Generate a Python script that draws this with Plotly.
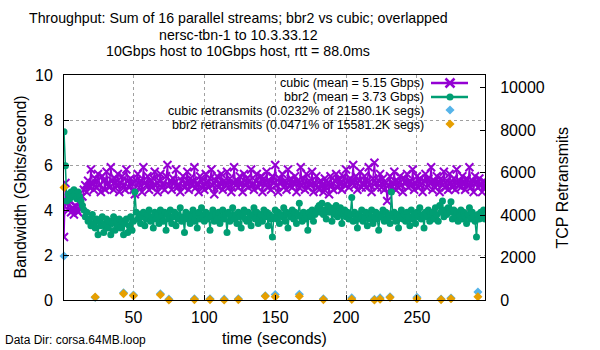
import plotly.graph_objects as go

# ---------------- data ----------------
cubic_bw = [
    2.8, 5.2, 4.3, 4.0, 4.4, 3.9, 4.1, 3.8, 4.2, 4.0,
    3.9, 4.3, 4.1, 4.6, 4.9, 5.1, 4.8, 5.3, 5.0, 5.8,
    5.2, 4.9,
    5.4, 5.0, 5.6, 5.1, 4.8, 5.5, 5.3, 4.9, 5.7, 5.2,
    5.0, 5.9, 5.3, 4.9, 5.4, 5.1, 5.6, 4.8, 5.2, 5.5,
    5.1, 4.9, 5.8, 5.3, 5.0, 5.4, 5.2, 4.9, 4.7, 5.3,
    5.6, 5.0, 5.3, 4.8, 5.9, 5.2, 5.1, 5.5, 4.9, 5.3,
    5.0, 5.4, 5.7, 5.1, 4.8, 5.3, 5.6, 5.0, 5.2, 4.9,
    5.5, 6.0, 5.1, 5.3, 4.9, 5.4, 5.2, 5.8, 5.0, 5.1,
    4.8, 5.3, 5.5, 5.0, 5.2, 5.7, 4.9, 5.4, 5.1, 5.3,
    5.9, 5.0, 5.2, 4.8, 5.5, 5.3, 5.1, 4.9, 5.6, 5.2,
    5.0, 5.4, 5.8, 5.1, 4.7, 5.3, 5.5, 5.0, 5.2, 5.6,
    4.9, 5.3, 5.1, 5.7, 5.0, 5.4, 4.8, 5.2, 5.9, 5.1,
    5.3, 5.0, 5.5, 5.2, 4.8, 5.6, 5.1, 5.4, 5.0, 5.3,
    5.8, 5.1, 4.9, 5.3, 5.6, 5.0, 5.2, 5.5, 4.8, 5.4,
    5.1, 5.7, 5.0, 5.3, 4.9, 5.5, 5.2, 6.0, 5.1, 4.8,
    5.4, 5.2, 5.6, 5.0, 5.3, 4.9, 5.8, 5.1, 5.4, 5.0,
    5.2, 5.5, 4.8, 5.3, 5.0, 5.9, 5.1, 5.4, 4.9, 5.6,
    5.0, 5.3, 5.1, 5.7, 4.8, 5.2, 5.5, 5.0, 4.9, 5.3,
    5.1, 4.8, 5.4, 5.0, 5.2, 4.7, 5.5, 5.1, 4.9, 5.3,
    5.6, 5.0, 5.4, 5.2, 4.9, 5.5, 5.1, 5.8, 5.3, 5.0,
    5.4, 5.2, 6.0, 5.1, 5.5, 4.9, 5.3, 5.7, 5.0, 5.2,
    5.5, 5.0, 5.3, 5.9, 5.1, 4.8, 5.4, 6.1, 5.2, 5.0,
    5.3, 5.6, 5.0, 5.4, 4.9, 5.2, 4.4, 5.1, 5.5, 5.0,
    5.2, 5.7, 4.9, 5.3, 5.0, 5.5, 5.1, 4.8, 5.4, 5.2,
    5.6, 5.0, 5.3, 5.1, 5.8, 4.9, 5.2, 5.5, 5.0, 5.4,
    5.1, 4.8, 5.3, 5.6, 5.0, 5.4, 5.2, 5.9, 4.9, 5.3,
    5.0, 5.5, 5.2, 4.8, 5.4, 5.1, 5.7, 5.0, 5.3, 4.9,
    5.6, 5.2, 5.0, 5.4, 4.9, 5.8, 5.1, 5.3, 5.0, 5.5,
    5.2, 4.9, 5.4, 5.1, 5.9, 5.0, 5.3, 4.8, 5.5, 5.2,
    5.0, 5.4, 5.1, 4.8, 5.3, 5.0,
]

bbr2_bw = [
    7.48, 5.97, 4.4, 4.7, 4.5, 4.8, 4.6, 4.9, 4.7, 4.5,
    4.8, 4.6, 4.4, 4.2, 4.0, 3.7, 3.9, 3.5, 3.6, 3.3,
    3.8, 3.4, 3.2, 3.6, 2.9, 3.5, 3.3, 3.7, 3.0, 3.4,
    3.6, 3.2, 3.5, 2.9, 3.4, 3.7, 3.1, 3.5, 3.3, 3.6,
    3.2, 3.5, 2.9, 3.4, 3.6, 3.0, 3.3, 3.7, 3.1, 3.5,
    4.8, 3.9, 3.6, 3.8, 3.4, 3.7, 3.9, 3.3, 3.6, 3.8,
    4.0, 3.5, 3.7, 3.2, 3.9, 3.6, 3.8, 3.4, 4.0, 3.7,
    3.5, 3.9, 3.1, 3.8, 3.6, 4.0, 3.4, 3.7, 3.9, 3.3,
    3.8, 3.6, 4.1, 3.5, 3.7, 3.0, 3.9, 3.6, 3.8, 3.4,
    3.7, 4.0, 3.5, 3.8, 3.2, 3.9, 3.6, 4.1, 3.7, 3.5,
    3.9, 3.6, 3.8, 3.1, 3.7, 4.0, 3.5, 3.8, 3.6, 3.9,
    3.4, 3.7, 4.0, 3.6, 3.8, 3.0, 3.9, 3.5, 3.7, 4.1,
    3.6, 3.8, 3.4, 3.9, 3.7, 3.2, 3.8, 4.0, 3.6, 3.5,
    3.9, 3.7, 3.3, 3.8, 4.1, 3.6, 3.9, 3.4, 3.7, 3.8,
    3.5, 4.0, 3.7, 3.9, 3.3, 3.8, 3.6, 2.8, 3.7, 4.0,
    3.6, 3.9, 3.4, 3.8, 3.7, 4.1, 3.5, 3.9, 3.2, 3.8,
    3.7, 4.0, 3.6, 3.9, 3.4, 3.8, 4.3, 3.7, 3.5, 3.9,
    3.6, 3.8, 3.1, 3.9, 3.7, 4.0, 3.5, 3.8, 3.9, 4.1,
    4.2, 3.9, 4.3, 3.8, 4.0, 3.6, 4.2, 3.9, 4.1, 3.5,
    4.0, 3.8, 4.2, 3.7, 3.9, 4.1, 3.4, 3.8, 4.0, 3.7,
    3.9, 3.6, 3.8, 4.56, 3.5, 3.9, 3.7, 3.2, 3.8, 3.6,
    4.0, 3.5, 3.7, 3.9, 3.3, 3.8, 3.6, 4.0, 3.4, 3.7,
    3.9, 3.6, 3.1, 3.8, 3.7, 4.0, 3.5, 3.9, 3.6, 3.8,
    3.4, 4.8, 3.7, 3.9, 3.5, 3.8, 3.2, 3.7, 4.0, 3.6,
    3.8, 3.5, 3.9, 3.7, 3.3, 4.0, 3.6, 3.8, 3.4, 3.9,
    3.7, 4.1, 3.6, 3.8, 3.2, 3.9, 3.7, 4.0, 3.5, 3.8,
    3.9, 3.6, 4.1, 3.8, 3.5, 4.2, 3.9, 4.4, 3.7, 4.0,
    3.8, 4.1, 3.9, 4.37, 3.6, 4.0, 3.7, 3.9, 3.5, 3.8,
    4.0, 3.6, 3.9, 3.7, 3.4, 3.8, 4.1, 3.6, 3.9, 3.7,
    3.5, 2.8, 3.8, 3.6, 3.9, 3.7, 4.0, 3.6,
]

time_s = list(range(1, len(cubic_bw) + 1))

retrans_time = [1, 23, 43, 50, 69, 75, 93, 104, 114, 124, 143,
                150, 167, 184, 204, 220, 224, 231, 250, 267, 274, 293]
cubic_retrans = [2070, 120, 340, 230, 290, 40, 60, 60, 40, 60, 200,
                 260, 270, 60, 100, 30, 100, 150, 130, 50, 90, 380]
bbr2_retrans = [5300, 140, 300, 200, 250, 0, 20, 20, 0, 20, 180,
                150, 180, 20, 30, 0, 40, 120, 60, 20, 60, 150]

x_ticks = [50, 100, 150, 200, 250]
y_ticks = [0, 2, 4, 6, 8, 10]
y2_ticks = [0, 2000, 4000, 6000, 8000, 10000]

legend_labels = [
    "cubic (mean = 5.15 Gbps)",
    "bbr2 (mean = 3.73 Gbps)",
    "cubic retransmits (0.0232% of 21580.1K segs)",
    "bbr2 retransmits (0.0471% of 15581.2K segs)",
]
title_lines = [
    "Throughput: Sum of 16 parallel streams; bbr2 vs cubic; overlapped",
    "nersc-tbn-1 to 10.3.33.12",
    "10Gbps host to 10Gbps host, rtt = 88.0ms",
]

# ---------------- style ----------------
FONT = "Liberation Sans, Arial, sans-serif"
PURPLE = "#9400D3"
GREEN = "#009E73"
BLUE = "#56B4E9"
ORANGE = "#E69F00"

L, R, T, B = 64, 485, 75, 300  # plot area in pixels
W, H = 600, 350


def px(x):
    return (x - L) / (R - L)


def py(y):
    return (B - y) / (B - T)


fig = go.Figure()

fig.add_trace(go.Scatter(
    x=time_s, y=cubic_bw, mode="lines+markers",
    line=dict(color=PURPLE, width=1.5),
    marker=dict(symbol="x-thin-open", size=8, color=PURPLE,
                line=dict(color=PURPLE, width=2)),
    showlegend=False,
))
fig.add_trace(go.Scatter(
    x=time_s, y=bbr2_bw, mode="lines+markers",
    line=dict(color=GREEN, width=1.5),
    marker=dict(symbol="circle", size=7, color=GREEN),
    showlegend=False,
))
fig.add_trace(go.Scatter(
    x=retrans_time, y=cubic_retrans, mode="markers", yaxis="y2",
    marker=dict(symbol="diamond", size=7, color=BLUE),
    cliponaxis=False, showlegend=False,
))
fig.add_trace(go.Scatter(
    x=retrans_time, y=bbr2_retrans, mode="markers", yaxis="y2",
    marker=dict(symbol="diamond", size=7, color=ORANGE),
    cliponaxis=False, showlegend=False,
))

# ---- manual legend (gnuplot style: text right, sample at right) ----
leg_rows = [83, 97, 111, 125]
sample_x0, sample_x1, sample_xc = 431, 468, 450
fig.add_trace(go.Scatter(
    x=[sample_x0, sample_x1], y=[leg_rows[0]] * 2,
    xaxis="x3", yaxis="y3", mode="lines",
    line=dict(color=PURPLE, width=2.5),
    showlegend=False, cliponaxis=False, hoverinfo="skip",
))
fig.add_trace(go.Scatter(
    x=[sample_xc], y=[leg_rows[0]], xaxis="x3", yaxis="y3", mode="markers",
    marker=dict(symbol="x-thin-open", size=9, color=PURPLE,
                line=dict(color=PURPLE, width=2.5)),
    showlegend=False, cliponaxis=False, hoverinfo="skip",
))
fig.add_trace(go.Scatter(
    x=[sample_x0, sample_x1], y=[leg_rows[1]] * 2,
    xaxis="x3", yaxis="y3", mode="lines",
    line=dict(color=GREEN, width=2.5),
    showlegend=False, cliponaxis=False, hoverinfo="skip",
))
fig.add_trace(go.Scatter(
    x=[sample_xc], y=[leg_rows[1]], xaxis="x3", yaxis="y3", mode="markers",
    marker=dict(symbol="circle", size=7, color=GREEN),
    showlegend=False, cliponaxis=False, hoverinfo="skip",
))
fig.add_trace(go.Scatter(
    x=[sample_xc], y=[leg_rows[2] - 1], xaxis="x3", yaxis="y3", mode="markers",
    marker=dict(symbol="diamond", size=7, color=BLUE),
    showlegend=False, cliponaxis=False, hoverinfo="skip",
))
fig.add_trace(go.Scatter(
    x=[sample_xc], y=[leg_rows[3] - 1], xaxis="x3", yaxis="y3", mode="markers",
    marker=dict(symbol="diamond", size=7, color=ORANGE),
    showlegend=False, cliponaxis=False, hoverinfo="skip",
))

annotations = []
for txt, yy in zip(legend_labels, leg_rows):
    annotations.append(dict(
        x=px(425), y=py(yy), xref="paper", yref="paper", text=txt,
        showarrow=False, xanchor="right", yanchor="middle", borderpad=0,
        font=dict(family=FONT, size=12.5, color="black"),
    ))
for txt, yy in zip(title_lines, [18, 34.5, 51]):
    annotations.append(dict(
        x=px(238), y=py(yy), xref="paper", yref="paper", text=txt,
        showarrow=False, xanchor="center", yanchor="middle", borderpad=0,
        font=dict(family=FONT, size=14.2, color="black"),
    ))
annotations += [
    dict(x=px(274), y=py(338), xref="paper", yref="paper", text="time (seconds)",
         showarrow=False, xanchor="center", yanchor="middle",
         font=dict(family=FONT, size=16, color="black")),
    dict(x=px(20), y=py(187.5), xref="paper", yref="paper",
         text="Bandwidth (Gbits/second)", textangle=-90,
         showarrow=False, xanchor="center", yanchor="middle",
         font=dict(family=FONT, size=16, color="black")),
    dict(x=px(562), y=py(187.5), xref="paper", yref="paper",
         text="TCP Retransmits", textangle=-90,
         showarrow=False, xanchor="center", yanchor="middle",
         font=dict(family=FONT, size=16, color="black")),
    dict(x=px(3), y=py(340), xref="paper", yref="paper",
         text="Data Dir: corsa.64MB.loop",
         showarrow=False, xanchor="left", yanchor="middle",
         font=dict(family=FONT, size=12, color="black")),
]

grid = dict(showgrid=True, gridcolor="#a0a0a0", gridwidth=1, griddash="3px,3px")

fig.update_layout(
    width=W, height=H,
    margin=dict(l=L, r=W - R, t=T, b=H - B, pad=0),
    paper_bgcolor="white", plot_bgcolor="white",
    font=dict(family=FONT, size=16, color="black"),
    showlegend=False,
    annotations=annotations,
    xaxis=dict(
        range=[1, 298], tickvals=x_ticks, ticktext=[str(v) for v in x_ticks],
        ticks="inside", ticklen=5, tickcolor="black",
        showline=True, mirror=True, linecolor="black", linewidth=1,
        zeroline=False, ticklabelstandoff=3,
        tickfont=dict(family=FONT, size=16), **grid,
    ),
    yaxis=dict(
        range=[0, 10], tickvals=y_ticks, ticktext=[str(v) for v in y_ticks],
        ticks="inside", ticklen=5, tickcolor="black",
        showline=True, mirror=True, linecolor="black", linewidth=1,
        zeroline=False, ticklabelstandoff=7,
        tickfont=dict(family=FONT, size=16), **grid,
    ),
    yaxis2=dict(
        range=[0, 10600], tickvals=y2_ticks, ticktext=[str(v) for v in y2_ticks],
        overlaying="y", side="right", anchor="x",
        ticks="inside", ticklen=5, tickcolor="black",
        showline=True, linecolor="black", linewidth=1,
        showgrid=False, zeroline=False, ticklabelstandoff=11,
        tickfont=dict(family=FONT, size=16),
    ),
    xaxis3=dict(range=[L, R], overlaying="x", visible=False, fixedrange=True),
    yaxis3=dict(range=[B, T], overlaying="y", visible=False, fixedrange=True),
)

fig.write_html("out.html")
